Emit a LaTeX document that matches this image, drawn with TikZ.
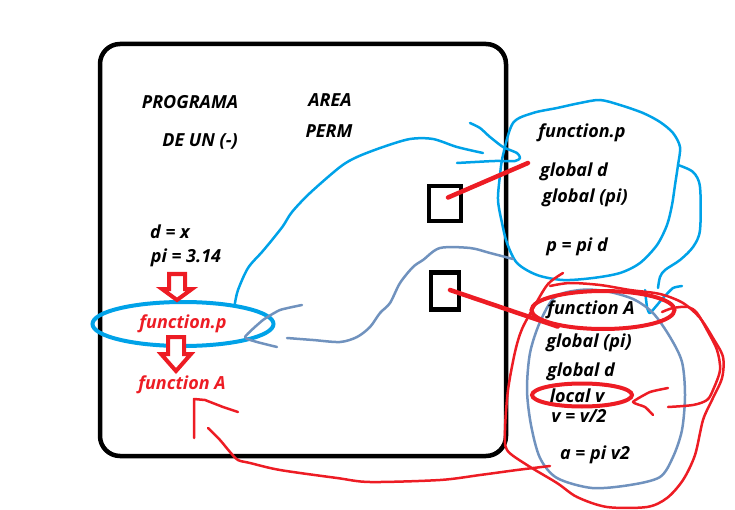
\documentclass[tikz,border=0pt]{standalone}
\usepackage{fontspec}
\setmainfont{Open Sans}
\usetikzlibrary{shapes.geometric}
\definecolor{paintred}{RGB}{237,28,36}
\definecolor{paintcyan}{RGB}{0,162,232}
\definecolor{paintsteel}{RGB}{112,146,190}
\tikzset{
  sketch text/.style={font=\fontsize{18}{20}\selectfont\bfseries\itshape, inner sep=0pt},
  call text/.style={sketch text, text=paintred},
  slot/.style={draw, line width=4.5pt, inner sep=0pt},
  ring/.style={ellipse, draw=paintred, line width=4pt, inner sep=0pt},
  link/.style={paintred, line width=4.5pt, line cap=round},
  stroke/.style={line width=2.5pt, line cap=round, line join=round},
}

\begin{document}
\begin{tikzpicture}[x=1pt, y=-1pt]
  \useasboundingbox (0,0) rectangle (735,510);
  % memory frame
  \draw[line width=4.5pt, rounded corners=20pt] (100,44) rectangle (506,456);
  \node[sketch text] (prog) at (190,102) {PROGRAMA};
  \node[sketch text] (deun) at (200,142) {DE UN (-)};
  \node[sketch text] (area) at (330,100) {AREA};
  \node[sketch text] (perm) at (329,131) {PERM};
  \node[sketch text] (dx)   at (170,232) {d = x};
  \node[sketch text] (pival) at (186,258) {pi = 3.14};
  \node[ellipse, draw=paintcyan, line width=4pt, inner sep=0pt,
        minimum width=181pt, minimum height=44pt, call text] (callp) at (183,324) {function.p};
  \node[call text] (callA) at (182,385) {function A};
  \foreach \tx/\ty/\hl/\tl in {177/274/15/26, 176/337/17/34}{
    \draw[paintred, line width=4pt, line join=miter, fill=white]
      ({\tx-8},\ty) -- ({\tx+8},\ty) -- ({\tx+8},{\ty+\hl}) -- ({\tx+15},{\ty+\hl})
      -- (\tx,{\ty+\tl}) -- ({\tx-15},{\ty+\hl}) -- ({\tx-8},{\ty+\hl}) -- cycle;
  }
  \node[slot, minimum width=32pt, minimum height=35pt] (sq1) at (445,203.5) {};
  \node[slot, minimum width=28pt, minimum height=37pt] (sq2) at (445,291) {};

  % activation of function.p
  \draw[paintcyan, stroke] plot[smooth cycle] coordinates {(513,123) (533,113) (557,108)
    (580,103) (600,100) (620,105) (643,113) (660,122) (673,133) (680,147) (678,165)
    (675,185) (672,205) (667,225) (657,245) (640,263) (620,273) (593,278) (563,280)
    (537,275) (517,263) (507,243) (502,223) (498,200) (500,175) (503,155)};
  \node[sketch text] (fpname) at (582,133) {function.p};
  \node[sketch text] (fpd)    at (574,172) {global d};
  \node[sketch text] (fppi)   at (585,198) {global (pi)};
  \node[sketch text] (fpbody) at (577,247) {p = pi d};
  \draw[paintcyan, stroke] plot[smooth] coordinates {(678,165) (693,172) (700,187)
    (700,230) (693,247) (680,260) (665,270) (660,277) (658,288)};
  \draw[paintcyan, stroke] plot[smooth, tension=0.3] coordinates {(645,290) (647,307)
    (650,313) (663,298) (673,288) (682,286)};
  \draw[paintcyan, stroke] plot[smooth] coordinates {(callp.21) (238,290) (248,268)
    (262,252) (272,240) (283,226) (292,212) (310,193) (340,167) (357,157) (383,147)
    (410,139) (433,139) (457,147) (483,153)};
  \draw[paintcyan, stroke] plot[smooth, tension=0.4] coordinates {(470,123) (480,128)
    (490,137) (503,147) (517,153) (520,158) (515,161) (495,161) (475,162) (457,163)};

  % activation of function A
  \draw[paintsteel, stroke] plot[smooth cycle] coordinates {(555,297) (580,290) (605,291)
    (633,299) (653,313) (670,337) (682,362) (685,395) (682,430) (673,457) (660,477)
    (630,485) (592,488) (557,478) (540,458) (531,425) (527,390) (530,353) (540,322)};
  \draw[paintsteel, stroke] plot[smooth] coordinates {(513,259) (490,253) (470,248)
    (440,248) (423,260) (413,267) (400,283) (390,303) (380,313) (370,327) (357,337)
    (340,342) (313,340) (287,338)};
  \draw[paintsteel, stroke] plot[smooth, tension=0.3] coordinates {(302,305) (280,310)
    (263,320) (245,337) (257,342) (277,347)};
  \draw[paintred, stroke] plot[smooth] coordinates {(563,273) (548,284) (535,305)
    (522,329) (515,352) (508,390) (505,430) (507,450) (527,465) (557,483) (577,497)
    (607,507) (647,507) (667,498) (683,480) (695,455) (703,420) (712,400) (722,378)
    (723,357) (713,338) (700,318) (683,303) (660,294) (630,290) (600,285) (570,283)
    (550,286)};
  \node[ring, minimum width=143pt, minimum height=38pt] (ringA) at (603,310) {};
  \node[ring, minimum width=100pt, minimum height=23pt] (ringv) at (582,395) {};
  \node[sketch text] (faname) at (591,310) {function A};
  \node[sketch text] (fapi)   at (589,343) {global (pi)};
  \node[sketch text] (fad)    at (581,372) {global d};
  \node[sketch text] (falocal) at (577,396) {local v};
  \node[sketch text] (fahalf) at (579,416) {v = v/2};
  \node[sketch text] (faarea) at (595,455) {a = pi v2};
  \draw[paintred, stroke] plot[smooth] coordinates {(662,312) (673,308) (688,307)
    (697,313) (707,330) (717,350) (720,370) (713,390) (707,400) (693,405) (668,407)};
  \draw[paintred, stroke] plot[smooth, tension=0.3] coordinates {(668,388) (650,392)
    (633,402) (645,407) (653,415)};
  \draw[paintred, stroke] plot[smooth] coordinates {(550,466) (517,470) (480,475)
    (440,480) (370,482) (337,478) (280,470) (250,463) (238,460) (230,452) (220,440)
    (208,428)};
  \draw[paintred, stroke] (194,438) -- (194,399) -- (205,400) -- (223,407) -- (238,412);

  % pointers from the frame
  \coordinate (pin1) at (528,163);
  \draw[link] ([xshift=3pt, yshift=6pt]sq1.center) -- (pin1);
  \draw[link] ([xshift=5pt, yshift=1pt]sq2.center) -- (ringA.200);
\end{tikzpicture}
\end{document}
